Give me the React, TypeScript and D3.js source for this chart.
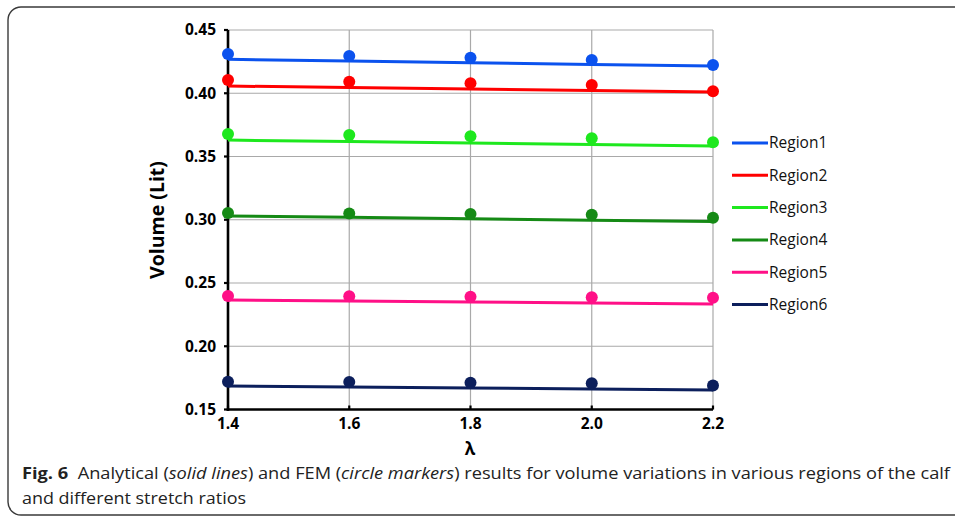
import React, { useEffect, useRef } from 'react';
import * as d3 from 'd3';

const lambdas = [1.4, 1.6, 1.8, 2.0, 2.2];
const regionNames = ['Region1', 'Region2', 'Region3', 'Region4', 'Region5', 'Region6'];
const regionColors = ['#0b52ee', '#ff0000', '#1ee81e', '#158a15', '#ff1087', '#0c1f5c'];

// analytical (solid lines)
const analytical1 = [0.4268, 0.4255, 0.4242, 0.4228, 0.4215];
const analytical2 = [0.4057, 0.4045, 0.4033, 0.4021, 0.4009];
const analytical3 = [0.3630, 0.3618, 0.3606, 0.3595, 0.3583];
const analytical4 = [0.3030, 0.3019, 0.3008, 0.2997, 0.2986];
const analytical5 = [0.2366, 0.2358, 0.2350, 0.2342, 0.2334];
const analytical6 = [0.1686, 0.1678, 0.1670, 0.1662, 0.1654];

// FEM (circle markers)
const fem1 = [0.4310, 0.4294, 0.4280, 0.4263, 0.4223];
const fem2 = [0.4105, 0.4090, 0.4080, 0.4065, 0.4015];
const fem3 = [0.3678, 0.3670, 0.3660, 0.3644, 0.3612];
const fem4 = [0.3053, 0.3050, 0.3045, 0.3040, 0.3016];
const fem5 = [0.2397, 0.2396, 0.2391, 0.2388, 0.2384];
const fem6 = [0.1720, 0.1717, 0.1712, 0.1707, 0.1690];

const yTicks = [0.15, 0.2, 0.25, 0.3, 0.35, 0.4, 0.45];

const analytical = [analytical1, analytical2, analytical3, analytical4, analytical5, analytical6];
const fem = [fem1, fem2, fem3, fem4, fem5, fem6];

const App = () => {
    const ref = useRef<SVGSVGElement>(null);

    useEffect(() => {
        const svg = d3.select(ref.current);
        svg.selectAll('*').remove();

        const x = d3.scaleLinear().domain([1.4, 2.2]).range([228, 713]);
        const y = d3.scaleLinear().domain([0.15, 0.45]).range([409.5, 30]);

        // figure frame
        svg.append('rect').attr('x', 8).attr('y', 7).attr('width', 1000).attr('height', 508)
            .attr('rx', 13).attr('fill', 'white').attr('stroke', '#3a3a3a').attr('stroke-width', 1.4);

        // grid
        const grid = svg.append('g').attr('stroke', '#a9a9a9').attr('stroke-width', 1.2);
        grid.selectAll('line.h').data(yTicks.slice(1)).join('line').attr('class', 'h')
            .attr('x1', x(1.4)).attr('x2', x(2.2)).attr('y1', d => y(d)).attr('y2', d => y(d));
        grid.selectAll('line.v').data(lambdas.slice(1)).join('line').attr('class', 'v')
            .attr('y1', y(0.15)).attr('y2', y(0.45)).attr('x1', d => x(d)).attr('x2', d => x(d));

        // axes
        const axisG = svg.append('g').attr('stroke', 'black');
        axisG.append('line').attr('x1', x(1.4)).attr('x2', x(1.4)).attr('y1', y(0.45)).attr('y2', y(0.15) + 1.5).attr('stroke-width', 2.6);
        axisG.append('line').attr('x1', x(1.4) - 1.3).attr('x2', x(2.2)).attr('y1', y(0.15)).attr('y2', y(0.15)).attr('stroke-width', 2.6);
        axisG.selectAll('line.yt').data(yTicks).join('line').attr('class', 'yt')
            .attr('x1', x(1.4) - 4).attr('x2', x(1.4)).attr('y1', d => y(d)).attr('y2', d => y(d)).attr('stroke-width', 2.2);
        axisG.selectAll('line.xt').data(lambdas).join('line').attr('class', 'xt')
            .attr('x1', d => x(d)).attr('x2', d => x(d)).attr('y1', y(0.15) - 4).attr('y2', y(0.15)).attr('stroke-width', 2.2);

        const font = '"Open Sans", "Noto Sans", sans-serif';
        svg.append('g').selectAll('text').data(yTicks).join('text')
            .attr('x', 216).attr('y', d => y(d)).attr('dy', '0.35em').attr('text-anchor', 'end')
            .attr('font-family', font).attr('font-weight', 'bold').attr('font-size', 15.5)
            .text(d => d.toFixed(2));
        svg.append('g').selectAll('text').data(lambdas).join('text')
            .attr('x', d => x(d)).attr('y', 429).attr('text-anchor', 'middle')
            .attr('font-family', font).attr('font-weight', 'bold').attr('font-size', 15.5)
            .text(d => d.toFixed(1));

        svg.append('text').attr('transform', 'translate(164,220) rotate(-90)').attr('text-anchor', 'middle')
            .attr('font-family', font).attr('font-weight', 'bold').attr('font-size', 19.5).text('Volume (Lit)');
        svg.append('text').attr('x', 470).attr('y', 455).attr('text-anchor', 'middle')
            .attr('font-family', font).attr('font-weight', 'bold').attr('font-size', 17).text('λ');

        // series
        const line = d3.line<number>().x((_, i) => x(lambdas[i])).y(d => y(d));
        regionNames.forEach((name, k) => {
            const g = svg.append('g');
            g.append('path').datum(analytical[k]).attr('d', line).attr('fill', 'none')
                .attr('stroke', regionColors[k]).attr('stroke-width', 3);
            g.selectAll('circle').data(fem[k]).join('circle')
                .attr('cx', (_, i) => x(lambdas[i])).attr('cy', d => y(d)).attr('r', 6)
                .attr('fill', regionColors[k]);
        });

        // legend
        const legend = svg.append('g').selectAll('g').data(regionNames).join('g')
            .attr('transform', (_, i) => `translate(732,${143 + i * 32.3})`);
        legend.append('line').attr('x1', 0).attr('x2', 36).attr('stroke', (_, i) => regionColors[i]).attr('stroke-width', 3);
        legend.append('text').attr('x', 37).attr('dy', '0.35em').attr('font-family', font)
            .attr('font-size', 15.5).attr('fill', '#111').text(d => d);

        // caption
        const cap = svg.append('text').attr('x', 22).attr('y', 479).attr('font-family', font)
            .attr('font-size', 16).attr('fill', '#222').attr('textLength', 928).attr('lengthAdjust', 'spacingAndGlyphs');
        cap.append('tspan').attr('font-weight', 'bold').text('Fig. 6');
        cap.append('tspan').text('\u00a0 Analytical (');
        cap.append('tspan').attr('font-style', 'italic').text('solid lines');
        cap.append('tspan').text(') and FEM (');
        cap.append('tspan').attr('font-style', 'italic').text('circle markers');
        cap.append('tspan').text(') results for volume variations in various regions of the calf');
        svg.append('text').attr('x', 22).attr('y', 504).attr('font-family', font)
            .attr('font-size', 16).attr('fill', '#222').attr('textLength', 224).attr('lengthAdjust', 'spacingAndGlyphs')
            .text('and different stretch ratios');
    }, []);

    return <svg ref={ref} width={955} height={522} style={{ position: 'absolute', left: 0, top: 0 }} />;
};

export default App;
